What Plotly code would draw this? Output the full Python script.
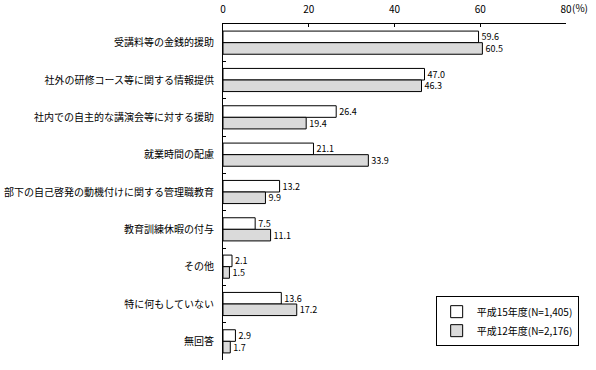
import plotly.graph_objects as go

categories = ["受講料等の金銭的援助", "社外の研修コース等に関する情報提供", "社内での自主的な講演会等に対する援助",
              "就業時間の配慮", "部下の自己啓発の動機付けに関する管理職教育", "教育訓練休暇の付与",
              "その他", "特に何もしていない", "無回答"]
h15_values = [59.6, 47.0, 26.4, 21.1, 13.2, 7.5, 2.1, 13.6, 2.9]
h12_values = [60.5, 46.3, 19.4, 33.9, 9.9, 11.1, 1.5, 17.2, 1.7]
series_names = ["平成15年度(N=1,405)", "平成12年度(N=2,176)"]
x_ticks = [0, 20, 40, 60, 80]

FONT = "Noto Sans CJK JP"

fig = go.Figure()
fig.add_trace(go.Bar(
    y=categories, x=h15_values, orientation="h", name=series_names[0],
    marker=dict(color="white", line=dict(color="black", width=1)),
    texttemplate="%{x:.1f}", textposition="outside", cliponaxis=False, constraintext="none",
    textfont=dict(size=9, color="black", family=FONT),
))
fig.add_trace(go.Bar(
    y=categories, x=h12_values, orientation="h", name=series_names[1],
    marker=dict(color="white", line=dict(color="black", width=1),
                pattern=dict(shape=".", size=2, solidity=0.5, fgcolor="#555555", bgcolor="white")),
    texttemplate="%{x:.1f}", textposition="outside", cliponaxis=False, constraintext="none",
    textfont=dict(size=9, color="black", family=FONT),
))

fig.update_layout(
    width=596, height=370,
    margin=dict(l=223, r=30, t=24, b=10, autoexpand=False),
    paper_bgcolor="white", plot_bgcolor="white",
    barmode="group", bargap=0.38, bargroupgap=0,
    font=dict(family=FONT, size=10, color="black"),
    showlegend=True,
    legend=dict(x=0.62, y=0.19, xanchor="left", yanchor="top",
                bordercolor="black", borderwidth=1, bgcolor="white", itemwidth=30,
                font=dict(size=10, family=FONT), tracegroupgap=4),
    xaxis=dict(side="top", range=[0, 80], tickvals=x_ticks, ticktext=[str(v) for v in x_ticks],
               showgrid=False, zeroline=False, showline=True, linecolor="black", linewidth=1,
               ticks="inside", ticklen=3, tickcolor="black", tickfont=dict(size=10, family=FONT),
               automargin=False, ticklabelstandoff=6),
    yaxis=dict(autorange="reversed", showgrid=False, zeroline=False, showline=True,
               linecolor="black", linewidth=1, ticks="inside", ticklen=3, tickcolor="black",
               tickson="boundaries", tickfont=dict(size=10, family=FONT), ticklabelstandoff=6,
               automargin=False),
    annotations=[dict(x=80, y=1, xref="x", yref="paper", text="(%)", showarrow=False,
                      xanchor="left", yanchor="bottom", xshift=4, yshift=7,
                      font=dict(size=10, family=FONT))],
)

fig.write_html("out.html", config={"displayModeBar": False},
               post_script="document.body.style.margin='0';document.body.style.padding='0';")
